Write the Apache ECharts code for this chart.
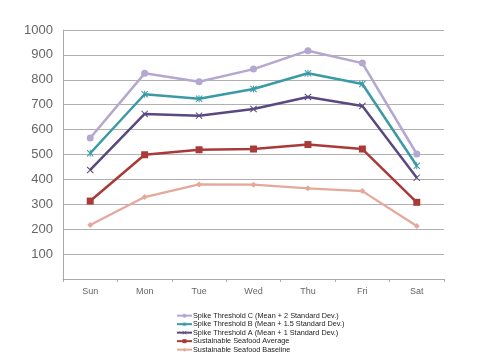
<!DOCTYPE html>
<html><head><meta charset="utf-8">
<script src="https://cdn.jsdelivr.net/npm/echarts@6/dist/echarts.min.js"></script>
<style>html,body{margin:0;padding:0;background:#fff}#c{width:480px;height:360px}</style>
</head><body><div id="c"></div>
<script>
var categories = ['Sun','Mon','Tue','Wed','Thu','Fri','Sat'];
var seriesNames = [
  'Spike Threshold C (Mean + 2 Standard Dev.)',
  'Spike Threshold B (Mean + 1.5 Standard Dev.)',
  'Spike Threshold A (Mean + 1 Standard Dev.)',
  'Sustainable Seafood Average',
  'Sustainable Seafood Baseline'
];
var thresholdC = [566, 826, 792, 843, 917, 867, 502];
var thresholdB = [505, 742, 724, 763, 826, 783, 455];
var thresholdA = [438, 663, 656, 683, 731, 695, 407];
var average    = [313, 499, 519, 522, 540, 522, 308];
var baseline   = [217, 329, 380, 379, 364, 353, 213];
var yTicks = [0, 1000, 100];

var X_PATH = 'path://M0,1L1,0L5,4L9,0L10,1L6,5L10,9L9,10L5,6L1,10L0,9L4,5Z';
var STAR_PATH = 'path://M0,1L1,0L5,4L9,0L10,1L6,5L10,9L9,10L5,6L1,10L0,9L4,5Z M4.3,0L5.7,0L5.7,10L4.3,10Z';

var colors = ['#b4a7d0', '#3a9aa6', '#5a4880', '#a93a3a', '#e4a89c'];
var symbols = ['circle', STAR_PATH, X_PATH, 'rect', 'diamond'];
var sizes = [7, 7, 7, 7, 6];
var widths = [2.5, 2.5, 2.5, 2.5, 2.2];
var dataSets = [thresholdC, thresholdB, thresholdA, average, baseline];

var series = dataSets.map(function(d, i){
  return {
    name: seriesNames[i], type: 'line', data: d,
    symbol: symbols[i], symbolSize: sizes[i], showSymbol: true,
    lineStyle: {width: widths[i], color: colors[i]},
    itemStyle: {color: colors[i]},
    z: 10 - i
  };
});

var chart = echarts.init(document.getElementById('c'), null, {renderer: 'canvas'});
chart.setOption({
  animation: false,
  color: colors,
  grid: {left: 63, right: 36, top: 30, bottom: 81, containLabel: false},
  xAxis: {
    type: 'category', data: categories, boundaryGap: true,
    axisLine: {lineStyle: {color: '#aaaaaa', width: 1}},
    axisTick: {show: true, length: 3, lineStyle: {color: '#aaaaaa'}},
    axisLabel: {color: '#666666', fontSize: 9, fontFamily: 'Liberation Sans, Arial, sans-serif', margin: 8}
  },
  yAxis: {
    type: 'value', min: yTicks[0], max: yTicks[1], interval: yTicks[2],
    axisLine: {show: true, lineStyle: {color: '#aaaaaa', width: 1}},
    axisTick: {show: false},
    splitLine: {lineStyle: {color: '#b0b0b0', width: 1}},
    axisLabel: {
      color: '#666666', fontSize: 13, fontFamily: 'Liberation Sans, Arial, sans-serif', margin: 10,
      formatter: function(v){ return v === 0 ? '' : String(v); }
    }
  },
  legend: {
    orient: 'vertical', left: 176, top: 312, height: 60, padding: 0,
    itemWidth: 15, itemHeight: 5, itemGap: 1.2,
    textStyle: {fontSize: 7.3, color: '#222222', fontFamily: 'Liberation Sans, Arial, sans-serif', lineHeight: 7.3, padding: [0,0,0,-4]},
    data: seriesNames
  },
  series: series
});
</script>
</body></html>
